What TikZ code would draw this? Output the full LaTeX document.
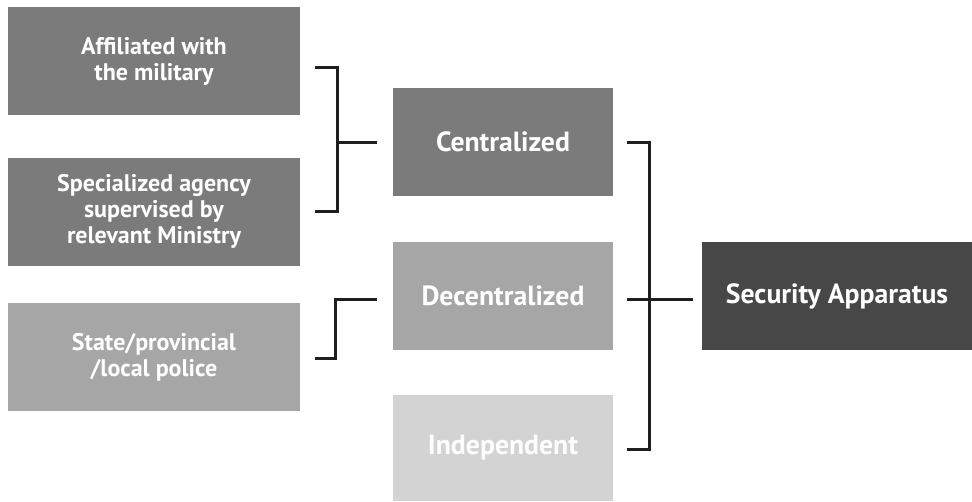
\documentclass[tikz,border=0pt]{standalone}
\usepackage{fontspec}
\setmainfont{PT Sans}
\begin{document}
\begin{tikzpicture}[x=0.75pt,y=-0.75pt,
  box/.style={rectangle,inner sep=0pt,text=white,font=\bfseries,align=center,anchor=center},
  small/.style={box,minimum width=219pt,minimum height=81pt,font=\fontsize{18}{19.5}\selectfont\bfseries},
  mid/.style={box,minimum width=165pt,minimum height=81pt,font=\fontsize{20.8}{24}\selectfont\bfseries},
  bracket/.style={line width=2.25pt,draw=black!88}]
\useasboundingbox (0,0) rectangle (972,501);
\fill[white] (0,0) rectangle (972,501);
\definecolor{g1}{HTML}{7B7B7B}
\definecolor{g2}{HTML}{A6A6A6}
\definecolor{g3}{HTML}{D3D3D3}
\definecolor{g4}{HTML}{474747}
\node[small,fill=g1] (mil) at (154,61) {Affiliated with\\the military};
\node[small,fill=g1] (spec) at (154,211.5) {Specialized agency\\supervised by\\relevant Ministry};
\node[small,fill=g2] (state) at (154,357) {State/provincial\\/local police};
\node[mid,fill=g1] (cen) at (503,142) {Centralized};
\node[mid,fill=g2] (dec) at (503,296) {Decentralized};
\node[mid,fill=g3,minimum height=79.5pt,text=white!96!g3] (ind) at (503,448) {Independent};
\node[mid,fill=g4,minimum width=202.5pt] (sec) at (837,296) {Security Apparatus};
% bracket coordinates
\coordinate (b1t) at (315,67);
\coordinate (b1b) at (315,211);
\coordinate (b1v) at (337,142);
\coordinate (b1e) at (377,142);
\coordinate (b2s) at (315,358);
\coordinate (b2e) at (377,299);
\coordinate (b3t) at (627,142);
\coordinate (b3m) at (627,299);
\coordinate (b3b) at (627,449);
\coordinate (b3e) at (693,299);
\draw[bracket] (b1t) -| (b1v) |- (b1b);
\draw[bracket] (b1v) -- (b1e);
\draw[bracket] (b2s) -| (335,299) -- (b2e);
\draw[bracket] (b3t) -| (649,299) |- (b3b);
\draw[bracket] (b3m) -- (b3e);
\end{tikzpicture}
\end{document}
